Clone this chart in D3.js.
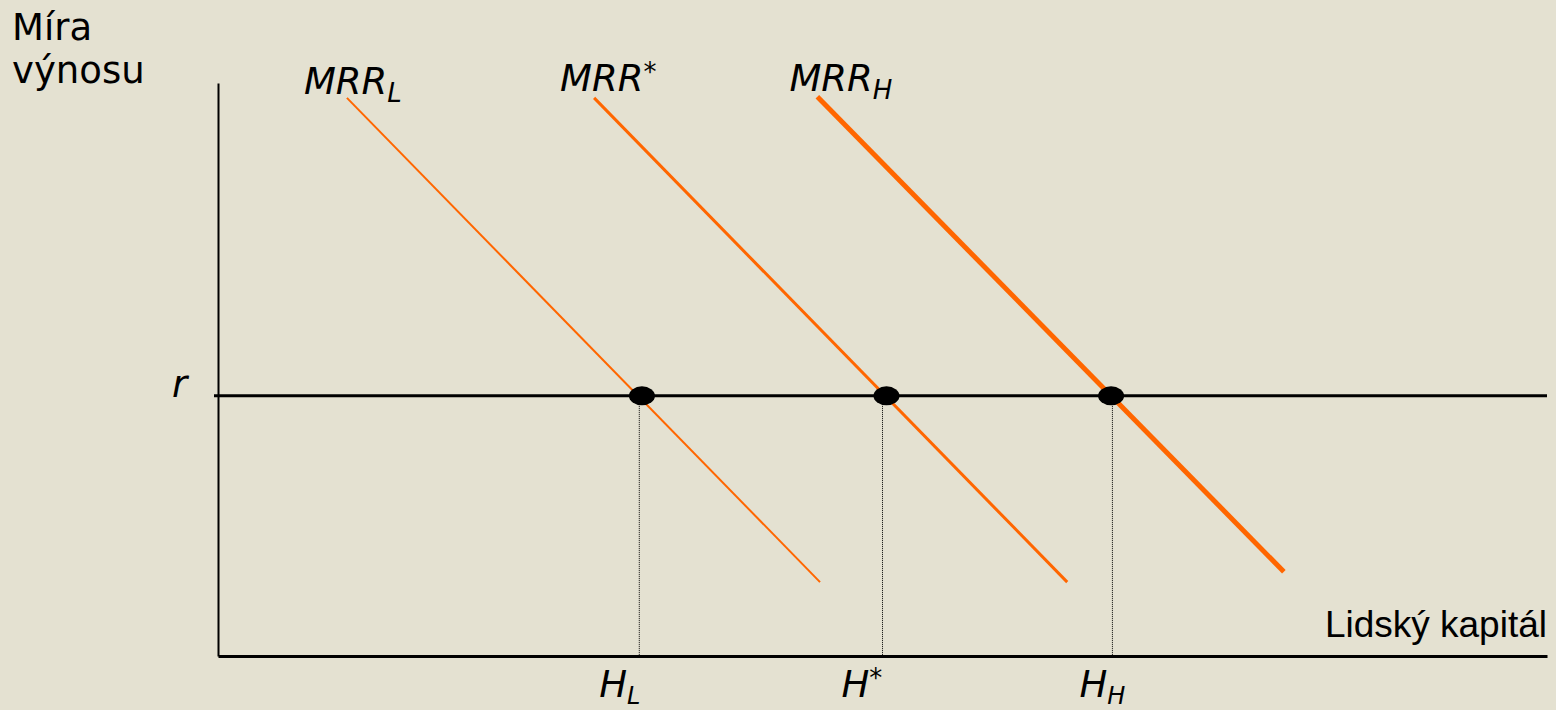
<!DOCTYPE html>
<html>
<head>
<meta charset="utf-8">
<script src="https://cdn.jsdelivr.net/npm/d3@7"></script>
<style>
  body { margin: 0; background: #e4e1d1; }
  svg { display: block; }
  .lbl { font-family: "DejaVu Sans", Verdana, sans-serif; fill: #000; }
</style>
</head>
<body>
<script>
// chart units: both axes run 0..100
const curveNames = ["L", "*", "H"];
const curveStartX = [9.7, 28.3, 45.1];
const curveStartY = [97.4, 97.4, 97.6];
const curveEndX = [45.3, 63.9, 80.2];
const curveEndY = [12.9, 12.9, 14.7];
const rateR = 45.4;
const dotX = [31.9, 50.3, 67.2];   // equilibrium points on r
const guideX = [31.7, 50.0, 67.3]; // dotted drops to the H axis
const hLabels = ["L", "*", "H"];

const W = 1556, H = 710;
const xScale = d3.scaleLinear().domain([0, 100]).range([218, 1547]);
const yScale = d3.scaleLinear().domain([0, 100]).range([656, 83]);

const svg = d3.select("body").append("svg")
  .attr("width", W).attr("height", H);

svg.append("rect").attr("width", W).attr("height", H).attr("fill", "#e4e1d1");

// axes, no ticks
const xAxis = svg.append("g")
  .attr("transform", `translate(0,${yScale(0)})`)
  .call(d3.axisBottom(xScale).tickValues([]).tickSizeOuter(0));
xAxis.select(".domain").attr("stroke", "#000").attr("stroke-width", 3);

const yAxis = svg.append("g")
  .attr("transform", `translate(${xScale(0)},0)`)
  .call(d3.axisLeft(yScale).tickValues([]).tickSizeOuter(0));
yAxis.select(".domain").attr("stroke", "#000").attr("stroke-width", 2);

// dotted guides
svg.selectAll(".guide")
  .data(guideX)
  .enter().append("line")
  .attr("class", "guide")
  .attr("x1", d => xScale(d)).attr("x2", d => xScale(d))
  .attr("y1", yScale(rateR)).attr("y2", yScale(0))
  .attr("stroke", "#000").attr("stroke-width", 1)
  .attr("stroke-dasharray", "1,1");

// MRR curves
const widths = [2, 3, 5];
const line = d3.line().x(d => xScale(d[0])).y(d => yScale(d[1]));
const curves = curveNames.map((n, i) => [[curveStartX[i], curveStartY[i]], [curveEndX[i], curveEndY[i]]]);
svg.selectAll(".mrr")
  .data(curves)
  .enter().append("path")
  .attr("class", "mrr")
  .attr("d", line)
  .attr("fill", "none")
  .attr("stroke", "#ff6600")
  .attr("stroke-width", (d, i) => widths[i]);

// r line
svg.append("line")
  .attr("x1", xScale(0) - 4).attr("x2", xScale(100))
  .attr("y1", yScale(rateR)).attr("y2", yScale(rateR))
  .attr("stroke", "#000").attr("stroke-width", 3);

// equilibrium dots
svg.selectAll(".dot")
  .data(dotX)
  .enter().append("ellipse")
  .attr("class", "dot")
  .attr("cx", d => xScale(d)).attr("cy", yScale(rateR))
  .attr("rx", 13).attr("ry", 9.5)
  .attr("fill", "#000");

// axis titles
const yTitle = svg.append("text").attr("class", "lbl").attr("font-size", 37);
yTitle.append("tspan").attr("x", 12).attr("y", 40).text("Míra");
yTitle.append("tspan").attr("x", 12).attr("y", 83).text("výnosu");

svg.append("text")
  .attr("x", 1547).attr("y", 637)
  .attr("text-anchor", "end")
  .attr("font-family", "'Liberation Sans', Arial, sans-serif")
  .attr("font-size", 37)
  .text("Lidský kapitál");

svg.append("text")
  .attr("class", "lbl")
  .attr("x", 172).attr("y", 397)
  .attr("font-size", 37).attr("font-style", "italic")
  .text("r");

// curve labels
const curveDx = [-43, -34, -28];
const curveBase = [94, 91, 91];
curveNames.forEach((n, i) => {
  const t = svg.append("text").attr("class", "lbl")
    .attr("x", xScale(curveStartX[i]) + curveDx[i]).attr("y", curveBase[i])
    .attr("font-size", 37).attr("font-style", "italic");
  t.append("tspan").text("MRR");
  if (n === "*") {
    t.append("tspan").attr("font-size", 26).attr("dy", -10).text("*");
  } else {
    t.append("tspan").attr("font-size", 26).attr("dy", 8).text(n);
  }
});

// H labels under the axis
const hDx = [-40, -41, -33];
hLabels.forEach((n, i) => {
  const t = svg.append("text").attr("class", "lbl")
    .attr("x", xScale(guideX[i]) + hDx[i]).attr("y", 697)
    .attr("font-size", 37).attr("font-style", "italic");
  t.append("tspan").text("H");
  if (n === "*") {
    t.append("tspan").attr("font-size", 26).attr("dy", -10).text("*");
  } else {
    t.append("tspan").attr("font-size", 24).attr("dy", 7).text(n);
  }
});
</script>
</body>
</html>
